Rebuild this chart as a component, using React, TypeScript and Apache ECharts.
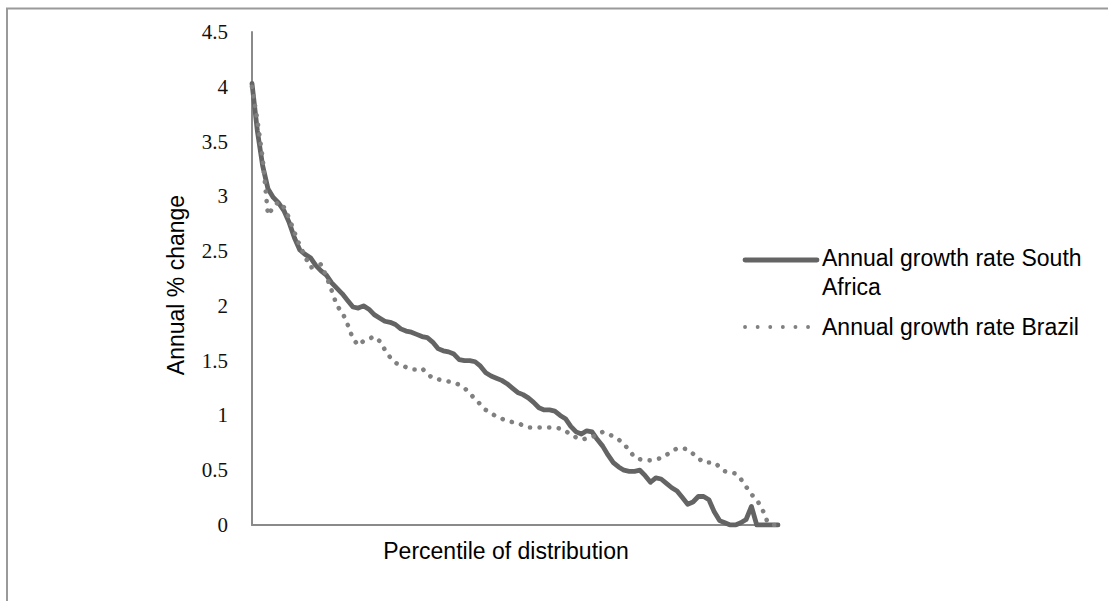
import React, { useEffect, useRef } from "react";
import * as echarts from "echarts";

const percentiles: string[] = Array.from({ length: 100 }, (_, i) => String(i + 1));

const southAfrica: number[] = [
  4.03, 3.6, 3.28, 3.07, 2.99, 2.94, 2.87, 2.76, 2.62, 2.51,
  2.47, 2.44, 2.37, 2.32, 2.28, 2.21, 2.16, 2.11, 2.05, 1.99,
  1.98, 2.0, 1.97, 1.92, 1.89, 1.86, 1.85, 1.83, 1.79, 1.77,
  1.76, 1.74, 1.72, 1.71, 1.67, 1.61, 1.59, 1.58, 1.56, 1.51,
  1.5, 1.5, 1.49, 1.45, 1.39, 1.36, 1.34, 1.32, 1.29, 1.25,
  1.21, 1.19, 1.16, 1.12, 1.07, 1.05, 1.05, 1.04, 1.0, 0.97,
  0.9, 0.85, 0.83, 0.86, 0.85, 0.78, 0.72, 0.64, 0.57, 0.53,
  0.5, 0.49, 0.49, 0.5, 0.45, 0.39, 0.43, 0.42, 0.38, 0.34,
  0.31, 0.25, 0.19, 0.21, 0.26, 0.26, 0.23, 0.12, 0.04, 0.02,
  0, 0, 0.02, 0.05, 0.17, 0, 0, 0, 0, 0,
];

const brazil: number[] = [
  4.0, 3.7, 3.35, 2.83, 2.9, 2.95, 2.9, 2.8, 2.67, 2.55,
  2.45, 2.35, 2.36, 2.38, 2.27, 2.14, 2.0, 1.94, 1.83, 1.7,
  1.64, 1.68, 1.7, 1.72, 1.68, 1.6, 1.53, 1.48, 1.46, 1.44,
  1.42, 1.42, 1.43, 1.38, 1.34, 1.33, 1.32, 1.31, 1.3, 1.28,
  1.25, 1.2, 1.15, 1.1, 1.05, 1.02, 0.99, 0.97, 0.95, 0.94,
  0.93, 0.91, 0.89, 0.89, 0.89, 0.89, 0.89, 0.89, 0.88, 0.86,
  0.82, 0.8, 0.78, 0.79, 0.8, 0.83, 0.85, 0.83, 0.81, 0.78,
  0.74, 0.68, 0.62, 0.6, 0.59, 0.59, 0.6, 0.61, 0.64, 0.67,
  0.7, 0.7, 0.69, 0.65, 0.61, 0.57, 0.57, 0.57, 0.53, 0.49,
  0.48, 0.47, 0.42, 0.35, 0.28, 0.23, 0.15, 0.03, 0, 0,
];

const seriesNames = ["Annual growth rate South Africa", "Annual growth rate Brazil"];
const yAxisTitle = "Annual % change";
const xAxisTitle = "Percentile of distribution";

const SANS = "'Liberation Sans', Arial, sans-serif";
const SERIF = "'Liberation Serif', 'Times New Roman', serif";
const SA_COLOR = "#646464";
const BR_COLOR = "#808080";

export default function App() {
  const ref = useRef<HTMLDivElement>(null);

  useEffect(() => {
    if (!ref.current) return;
    const chart = echarts.init(ref.current, undefined, { renderer: "svg" });
    chart.setOption({
      animation: false,
      backgroundColor: "#ffffff",
      grid: { left: 252, top: 32, right: 330, bottom: 76, containLabel: false },
      xAxis: {
        type: "category",
        data: percentiles,
        boundaryGap: false,
        axisLine: { show: true, lineStyle: { color: "#8a8a8a", width: 2 } },
        axisTick: { show: false },
        axisLabel: { show: false },
        splitLine: { show: false },
      },
      yAxis: {
        type: "value",
        min: 0,
        max: 4.5,
        interval: 0.5,
        axisLine: { show: true, lineStyle: { color: "#8a8a8a", width: 2 } },
        axisTick: { show: false },
        splitLine: { show: false },
        axisLabel: {
          margin: 24,
          color: "#111",
          fontFamily: SERIF,
          fontSize: 21,
        },
      },
      series: [
        {
          name: seriesNames[0],
          type: "line",
          data: southAfrica,
          showSymbol: false,
          symbol: "none",
          lineStyle: { color: SA_COLOR, width: 4.8, join: "round", cap: "round" },
          z: 2,
        },
        {
          name: seriesNames[1],
          type: "line",
          data: brazil,
          showSymbol: false,
          symbol: "none",
          lineStyle: { color: BR_COLOR, width: 4.6, type: [0.1, 9.5], cap: "round" },
          z: 3,
        },
      ],
      graphic: [
        {
          type: "rect",
          shape: { x: 7, y: 8.5, width: 1300, height: 800 },
          style: { fill: "none", stroke: "#9a9a9a", lineWidth: 2 },
          silent: true,
        },
        {
          type: "text",
          x: 176,
          y: 285,
          rotation: Math.PI / 2,
          style: {
            text: yAxisTitle,
            font: `23px ${SANS}`,
            fill: "#000",
            align: "center",
            verticalAlign: "middle",
          },
        },
        {
          type: "text",
          x: 506,
          y: 551,
          style: {
            text: xAxisTitle,
            font: `23px ${SANS}`,
            fill: "#000",
            align: "center",
            verticalAlign: "middle",
          },
        },
        {
          type: "line",
          shape: { x1: 745, y1: 260, x2: 817, y2: 260 },
          style: { stroke: SA_COLOR, lineWidth: 4.8, lineCap: "round" },
        },
        {
          type: "text",
          x: 822,
          y: 243,
          style: {
            text: "Annual growth rate South\nAfrica",
            font: `23px ${SANS}`,
            lineHeight: 29,
            fill: "#000",
            align: "left",
            verticalAlign: "top",
          },
        },
        {
          type: "line",
          shape: { x1: 745, y1: 327, x2: 810, y2: 327 },
          style: { stroke: BR_COLOR, lineWidth: 3.8, lineDash: [0.1, 12.5], lineCap: "round" },
        },
        {
          type: "text",
          x: 822,
          y: 327,
          style: {
            text: seriesNames[1],
            font: `23px ${SANS}`,
            fill: "#000",
            align: "left",
            verticalAlign: "middle",
          },
        },
      ],
    });
    return () => chart.dispose();
  }, []);

  return (
    <div
      ref={ref}
      style={{ position: "fixed", left: 0, top: 0, width: 1108, height: 601, background: "#fff" }}
    />
  );
}
